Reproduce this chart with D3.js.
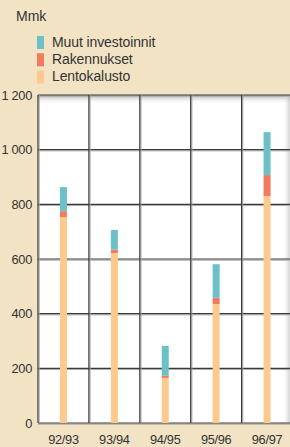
<!DOCTYPE html>
<html><head><meta charset="utf-8">
<script src="https://cdn.jsdelivr.net/npm/d3@7"></script>
<style>
body{margin:0;background:#f2e3c4;}
svg{display:block;font-family:"Liberation Sans",Arial,Helvetica,sans-serif;}
</style></head><body>
<svg id="c" width="290" height="447"></svg>
<script>
const categories = ["92/93","93/94","94/95","95/96","96/97"];
const lentokalusto = [753,622,165,435,830];
const rakennukset = [22,12,8,23,77];
const muut = [88,72,109,123,157];
const seriesNames = ["Lentokalusto","Rakennukset","Muut investoinnit"];
const colors = ["#fec98c","#f27a5e","#6cc1c8"];
const yTicks = [0,200,400,600,800,1000,1200];
const yTickLabels = ["0","200","400","600","800","1 000","1 200"];
const unitLabel = "Mmk";

const svg = d3.select("#c");
const L=38, R=292.5, T=95, B=423;
const x = d3.scaleBand().domain(categories).range([L,R]).padding(0);
const y = d3.scaleLinear().domain([0,1200]).range([B,T]);

const defs = svg.append("defs");
const gt = defs.append("linearGradient").attr("id","gt").attr("x1",0).attr("x2",0).attr("y1",0).attr("y2",1);
gt.append("stop").attr("offset",0).attr("stop-color","#8a8a8a").attr("stop-opacity",0.7);
gt.append("stop").attr("offset",1).attr("stop-color","#ffffff").attr("stop-opacity",0);
const gr = defs.append("linearGradient").attr("id","gr").attr("x1",0).attr("x2",1).attr("y1",0).attr("y2",0);
gr.append("stop").attr("offset",0).attr("stop-color","#ffffff").attr("stop-opacity",0);
gr.append("stop").attr("offset",1).attr("stop-color","#9a9a9a").attr("stop-opacity",0.7);

// plot background
svg.append("rect").attr("x",L).attr("y",T).attr("width",R-L).attr("height",B-T).attr("fill","#ffffff");
svg.append("rect").attr("x",L).attr("y",T).attr("width",R-L).attr("height",9).attr("fill","url(#gt)");
svg.append("rect").attr("x",282).attr("y",T).attr("width",10).attr("height",B-T).attr("fill","url(#gr)");

// horizontal grid
const hg = svg.append("g");
yTicks.forEach(v=>{
  hg.append("line").attr("x1",L).attr("x2",R).attr("y1",y(v)+1.2).attr("y2",y(v)+1.2).attr("stroke","#aaaaaa").attr("stroke-width",1);
  hg.append("line").attr("x1",L).attr("x2",R).attr("y1",y(v)).attr("y2",y(v)).attr("stroke","#3a3a3a").attr("stroke-width",1.2);
});
// vertical grid
const bounds = categories.map(c=>x(c));
bounds.forEach(bx=>{
  hg.append("line").attr("x1",bx+1.2).attr("x2",bx+1.2).attr("y1",T).attr("y2",B).attr("stroke","#aaaaaa").attr("stroke-width",1);
  hg.append("line").attr("x1",bx).attr("x2",bx).attr("y1",T).attr("y2",B).attr("stroke","#3a3a3a").attr("stroke-width",1.2);
});

// stacked bars
const data = categories.map((c,i)=>({cat:c, Lentokalusto:lentokalusto[i], Rakennukset:rakennukset[i], "Muut investoinnit":muut[i]}));
const stack = d3.stack().keys(seriesNames)(data);
const bw = 7;
svg.append("g").selectAll("g").data(stack).join("g").attr("fill",(d,i)=>colors[i])
  .selectAll("rect").data(d=>d).join("rect")
  .attr("x",d=>x(d.data.cat)+x.bandwidth()/2-bw/2)
  .attr("width",bw)
  .attr("y",d=>y(d[1]))
  .attr("height",d=>y(d[0])-y(d[1]));

// y labels
svg.append("g").selectAll("text").data(yTicks).join("text")
  .attr("x",32).attr("y",d=>y(d)+4.5).attr("text-anchor","end")
  .attr("font-size",12.8).attr("fill","#333").attr("letter-spacing",-0.3)
  .text((d,i)=>yTickLabels[i]);
// x labels
svg.append("g").selectAll("text").data(categories).join("text")
  .attr("x",d=>x(d)+x.bandwidth()/2).attr("y",444).attr("text-anchor","middle")
  .attr("font-size",12.8).attr("fill","#333").attr("letter-spacing",-0.3)
  .text(d=>d);

// unit label
svg.append("text").attr("x",16).attr("y",21).attr("font-size",14).attr("fill","#333").text(unitLabel);

// legend
const legOrder = [2,1,0];
const lg = svg.append("g");
legOrder.forEach((si,k)=>{
  const yy = 36 + k*17.3;
  lg.append("rect").attr("x",37).attr("y",yy).attr("width",7).attr("height",13).attr("fill",colors[si]);
  lg.append("text").attr("x",52).attr("y",yy+10.5).attr("font-size",14).attr("fill","#333").attr("letter-spacing",-0.1).text(seriesNames[si]);
});
</script></body></html>
